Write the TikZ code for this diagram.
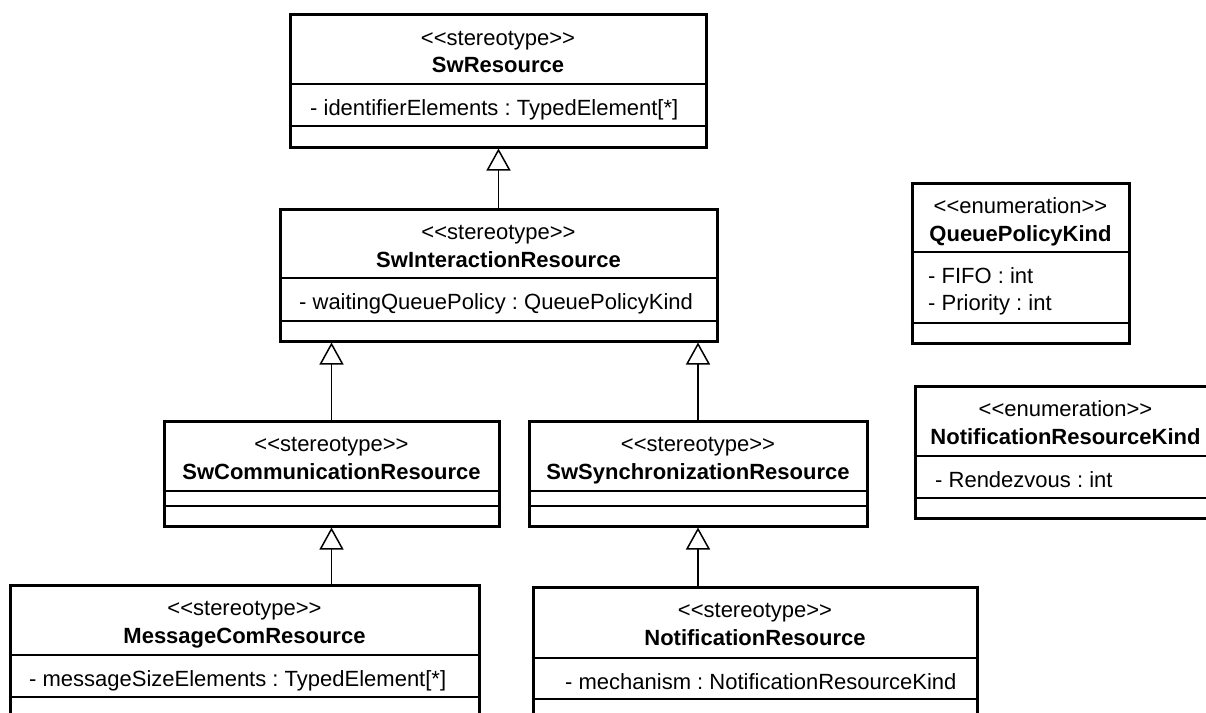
\documentclass[tikz,border=0pt]{standalone}
\usepackage{fontspec}
\newfontfamily\umlfont{Liberation Sans}
\usetikzlibrary{arrows.meta}
% guillemet-style stereotype brackets, kept as plain angle brackets
\newcommand\guill[1]{<\kern0pt<#1>\kern0pt>}
% two compartment separators across a class box
\newcommand\compartments[3]{%
  \draw[sepline] (#1.west |- 0,#2) -- (#1.east |- 0,#2);
  \draw[sepline] (#1.west |- 0,#3) -- (#1.east |- 0,#3);}
\frenchspacing
\begin{document}
\begin{tikzpicture}[x=1pt,y=-1pt,
  font=\umlfont\fontsize{22}{28}\selectfont\frenchspacing,
  classbox/.style={rectangle, draw=black, line width=3pt, fill=white, inner sep=0pt},
  sepline/.style={draw=black, line width=1.4pt},
  headtxt/.style={inner sep=0pt, anchor=base},
  attrtxt/.style={inner sep=0pt, anchor=base west},
  gen/.style={draw=black, line width=1.5pt,
    -{Triangle[width=24pt,length=22pt,fill=white,line width=1.5pt]}}
]
\useasboundingbox (0,0) rectangle (1206,712);
\clip (0,0) rectangle (1206,712);

% ---- SwResource
\node[classbox, minimum width=416, minimum height=133] (swres) at (498,80.5) {};
\compartments{swres}{84}{126}
\node[headtxt] (swres-st) at (swres.north |- 0,45) {\guill{stereotype}};
\node[headtxt] (swres-nm) at (swres.north |- 0,72) {\bfseries SwResource};
\node[attrtxt] (swres-a1) at (310,115) {- identifierElements : TypedElement[*]};

% ---- SwInteractionResource
\node[classbox, minimum width=437, minimum height=132] (swinter) at (498.5,275) {};
\compartments{swinter}{278}{321}
\node[headtxt] (swinter-st) at (swinter.north |- 0,239) {\guill{stereotype}};
\node[headtxt] (swinter-nm) at (swinter.north |- 0,267) {\bfseries SwInteractionResource};
\node[attrtxt] (swinter-a1) at (299,309) {- waitingQueuePolicy : QueuePolicyKind};

% ---- SwCommunicationResource
\node[classbox, minimum width=335, minimum height=105] (swcomm) at (331.5,473.5) {};
\compartments{swcomm}{491}{506}
\node[headtxt] (swcomm-st) at (swcomm.north |- 0,451) {\guill{stereotype}};
\node[headtxt] (swcomm-nm) at (swcomm.north |- 0,479) {\bfseries SwCommunicationResource};

% ---- SwSynchronizationResource
\node[classbox, minimum width=338, minimum height=105] (swsync) at (698,473.5) {};
\compartments{swsync}{491}{506}
\node[headtxt] (swsync-st) at (swsync.north |- 0,451) {\guill{stereotype}};
\node[headtxt] (swsync-nm) at (swsync.north |- 0,479) {\bfseries SwSynchronizationResource};

% ---- MessageComResource
\node[classbox, minimum width=469, minimum height=134] (msgcom) at (244.5,652) {};
\compartments{msgcom}{655}{697}
\node[headtxt] (msgcom-st) at (msgcom.north |- 0,615) {\guill{stereotype}};
\node[headtxt] (msgcom-nm) at (msgcom.north |- 0,643) {\bfseries MessageComResource};
\node[attrtxt] (msgcom-a1) at (29,686) {- messageSizeElements : TypedElement[*]};

% ---- NotificationResource
\node[classbox, minimum width=444, minimum height=133] (notif) at (755,653.5) {};
\compartments{notif}{658}{699}
\node[headtxt] (notif-st) at (notif.north |- 0,617) {\guill{stereotype}};
\node[headtxt] (notif-nm) at (notif.north |- 0,645) {\bfseries NotificationResource};
\node[attrtxt] (notif-a1) at (565,689) {- mechanism : NotificationResourceKind};

% ---- QueuePolicyKind
\node[classbox, minimum width=217, minimum height=160] (qpk) at (1020.5,263) {};
\compartments{qpk}{252}{323}
\node[headtxt] (qpk-st) at (qpk.north |- 0,213) {\guill{enumeration}};
\node[headtxt] (qpk-nm) at (qpk.north |- 0,241) {\bfseries QueuePolicyKind};
\node[attrtxt] (qpk-a1) at (928,283) {- FIFO : int};
\node[attrtxt] (qpk-a2) at (928,310) {- Priority : int};

% ---- NotificationResourceKind
\node[classbox, minimum width=301, minimum height=132] (nrk) at (1065.5,452) {};
\compartments{nrk}{456}{498}
\node[headtxt] (nrk-st) at (nrk.north |- 0,416) {\guill{enumeration}};
\node[headtxt] (nrk-nm) at (nrk.north |- 0,444) {\bfseries NotificationResourceKind};
\node[attrtxt] (nrk-a1) at (935,487) {- Rendezvous : int};

% ---- generalisations
\draw[gen] (swinter.north) -- (swinter.north |- swres.south);
\draw[gen] (swcomm.north) -- (swcomm.north |- swinter.south);
\draw[gen] (swsync.north) -- (swsync.north |- swinter.south);
\draw[gen] (msgcom.north -| swcomm.south) -- (swcomm.south);
\draw[gen] (notif.north -| swsync.south) -- (swsync.south);
\end{tikzpicture}
\end{document}
